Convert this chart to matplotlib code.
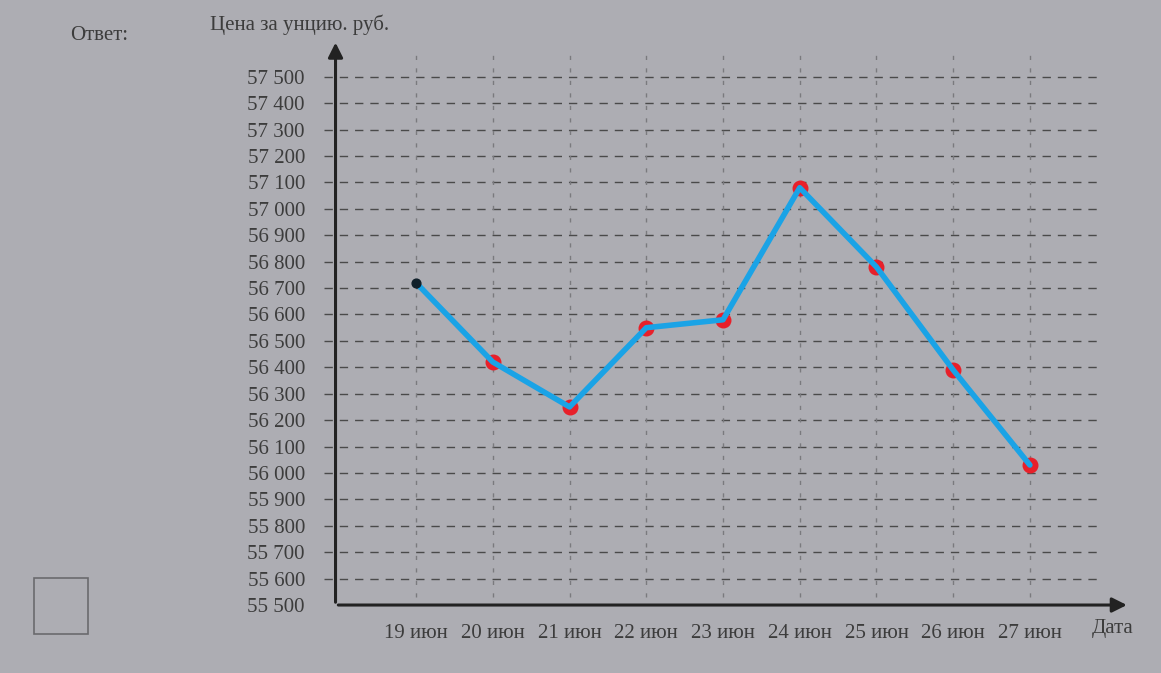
import matplotlib.pyplot as plt
import numpy as np

dates = ['19 июн', '20 июн', '21 июн', '22 июн', '23 июн',
         '24 июн', '25 июн', '26 июн', '27 июн']
prices = [56720, 56420, 56250, 56550, 56580, 57080, 56780, 56390, 56030]
y_ticks = list(range(55500, 57501, 100))

BG = '#adadb3'
TXT = '#3c3c3c'
LINE = '#1aa3e6'

plt.rcParams['font.family'] = ['Liberation Serif', 'DejaVu Serif']

fig = plt.figure(figsize=(11.61, 6.73), dpi=100, facecolor=BG)
ax = fig.add_axes([0.289, 0.101, 0.684, 0.832])
ax.set_facecolor(BG)

x = np.arange(len(dates))
ax.set_xlim(-1.05, 9.3)
ax.set_ylim(55500, 57620)

# dashed grid
for v in y_ticks[1:]:
    ax.plot([-1.2, 8.9], [v, v], ls=(0, (6, 5)), color='#4a4a4a', lw=1.0,
            clip_on=False, zorder=1)
for xi in x:
    ax.plot([xi, xi], [55530, 57600], ls=(0, (3, 6)), color='#7a7a7e', lw=1.0,
            zorder=1)

# axes with arrows
for s in ['top', 'right', 'left', 'bottom']:
    ax.spines[s].set_visible(False)
ax.annotate('', xy=(9.3, 55500), xytext=(-1.05, 55500),
            arrowprops=dict(arrowstyle='-|>', color='#222222', lw=2.2,
                            mutation_scale=22), annotation_clip=False)
ax.annotate('', xy=(-1.05, 57640), xytext=(-1.05, 55500),
            arrowprops=dict(arrowstyle='-|>', color='#222222', lw=2.2,
                            mutation_scale=22), annotation_clip=False)

ax.set_yticks(y_ticks)
ax.set_yticklabels(['{:,}'.format(v).replace(',', ' ') for v in y_ticks])
ax.set_xticks(x)
ax.set_xticklabels(dates)
ax.tick_params(axis='both', length=0, labelsize=15, labelcolor=TXT)
ax.tick_params(axis='y', pad=22)
ax.tick_params(axis='x', pad=14)

# price line
ax.plot(x, prices, color=LINE, lw=4, zorder=4, solid_capstyle='round')
ax.scatter(x[1:], prices[1:], s=110, color='#e8202a', zorder=3)
ax.scatter(x[:1], prices[:1], s=40, color='#10202a', zorder=5)

fig.text(0.181, 0.955, 'Цена за унцию. руб.', fontsize=15, color=TXT)
fig.text(0.940, 0.080, 'Дата', fontsize=15, color=TXT, va='top')
fig.text(0.060, 0.940, 'Ответ:', fontsize=15, color=TXT)
fig.patches.append(plt.Rectangle((0.029, 0.058), 0.047, 0.083,
                                 transform=fig.transFigure, fill=False,
                                 edgecolor='#6a6a6e', lw=1.2))

fig.savefig('out.png', dpi=100, facecolor=BG)
